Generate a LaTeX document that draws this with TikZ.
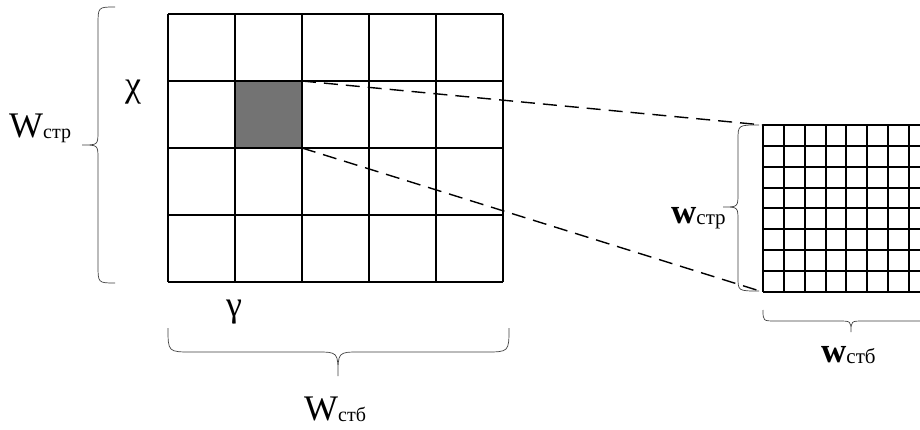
\documentclass[tikz,border=0pt]{standalone}
\usepackage{fontspec}
\setmainfont{Liberation Serif}
\begin{document}
\begin{tikzpicture}[x=1pt,y=-1pt,
  gridline/.style={line width=1.6pt,black},
  finegrid/.style={line width=1.2pt,black},
  bracepath/.style={line width=0.7pt,black!75},
  zoomline/.style={line width=1.4pt,dash pattern=on 14pt off 8pt},
  biglabel/.style={inner sep=0pt,anchor=base west,font=\fontsize{36}{40}\selectfont},
  smalllabel/.style={inner sep=0pt,anchor=base west,font=\fontsize{35}{38}\selectfont\bfseries},
  greeklabel/.style={inner sep=0pt,font=\fontsize{36}{40}\selectfont}]
\useasboundingbox (0,0) rectangle (920,430);
\clip (0,0) rectangle (920,430);
\fill[white] (0,0) rectangle (920,430);
% shaded cell
\fill[black!55] (235,81) rectangle (302,148);
% large grid 5x4
\foreach \x in {168,235,302,369,436,503} \draw[gridline] (\x,14) -- (\x,282);
\foreach \y in {14,81,148,215,282} \draw[gridline] (168,\y) -- (503,\y);
% small grid 8x8
\foreach \x in {763,784,805,826,846,867,888,909,930} \draw[finegrid] (\x,125) -- (\x,292);
\foreach \y in {125,146,167,188,208,229,250,271,292} \draw[finegrid] (763,\y) -- (930,\y);
% zoom connectors
\coordinate (cellTR) at (302,81);
\coordinate (cellBR) at (302,148);
\coordinate (fineTL) at (763,125);
\coordinate (fineBL) at (763,292);
\draw[zoomline] (cellTR) -- (fineTL);
\draw[zoomline] (cellBR) -- (fineBL);
% braces
\draw[bracepath] (115,7) .. controls (98,7) .. (98,25) -- (98,131) .. controls (98,145) .. (82,145) .. controls (98,145) .. (98,159) -- (98,265) .. controls (98,283) .. (115,283);
\draw[bracepath] (168,328) .. controls (168,352) .. (192,352) -- (316,352) .. controls (338,352) .. (338,376) .. controls (338,352) .. (360,352) -- (485,352) .. controls (509,352) .. (509,328);
\draw[bracepath] (759,125) .. controls (738,125) .. (738,140) -- (738,193) .. controls (738,207) .. (723,207) .. controls (738,207) .. (738,221) -- (738,277) .. controls (738,291) .. (759,291);
\draw[bracepath] (763,310) .. controls (763,321) .. (776,321) -- (838,321) .. controls (851,321) .. (851,332) .. controls (851,321) .. (864,321) -- (927,321) .. controls (940,321) .. (940,310);
% labels
\node[biglabel] (Wstr) at (9,138) {W\raisebox{-1pt}{\fontsize{20}{22}\selectfont стр}};
\node[biglabel] (Wstb) at (304,420) {W\raisebox{-1pt}{\fontsize{20}{22}\selectfont стб}};
\node[smalllabel] (wstr) at (671,224) {w\raisebox{-1pt}{\mdseries\fontsize{21}{22}\selectfont стр}};
\node[smalllabel] (wstb) at (821,362) {w\raisebox{-1pt}{\mdseries\fontsize{21}{22}\selectfont стб}};
\node[greeklabel] (chi) at (133,92) {χ};
\node[greeklabel] (gam) at (234,312) {γ};
\end{tikzpicture}
\end{document}
